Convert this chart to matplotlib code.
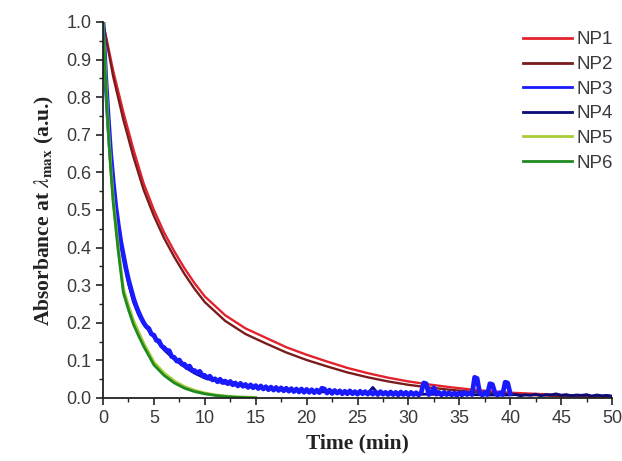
import numpy as np
import matplotlib
matplotlib.use("Agg")
import matplotlib.pyplot as plt
from matplotlib.ticker import MultipleLocator

plt.rcParams['mathtext.fontset'] = 'stix'

# NP1 / NP2 (red pair), smooth decays
t_red = [0, 1, 2, 3, 4, 5, 6, 7, 8, 9, 10, 12, 14, 16, 18, 20, 22, 24, 26,
         28, 30, 32, 34, 36, 38, 40, 45, 50]
np1 = [1.0, 0.87, 0.76, 0.66, 0.57, 0.50, 0.44, 0.39, 0.345, 0.305, 0.27,
       0.22, 0.185, 0.16, 0.135, 0.115, 0.097, 0.08, 0.066, 0.054, 0.044,
       0.036, 0.029, 0.023, 0.018, 0.014, 0.008, 0.004]
np2 = [1.0, 0.855, 0.74, 0.64, 0.553, 0.484, 0.425, 0.375, 0.33, 0.29,
       0.255, 0.205, 0.17, 0.145, 0.121, 0.101, 0.084, 0.068, 0.055, 0.044,
       0.035, 0.028, 0.022, 0.017, 0.013, 0.010, 0.005, 0.003]

# NP3 (noisy blue, sampled every 0.25 min up to 40 min)
t_np3 = np.arange(0, 40.01, 0.25)
np3 = [1.0, 0.86, 0.75, 0.65, 0.575, 0.51, 0.46, 0.415, 0.38, 0.345, 0.315,
       0.29, 0.265, 0.245, 0.228, 0.213, 0.20, 0.19,
       0.185, 0.170,
       0.167, 0.153, 0.152, 0.138,   # 5
       0.134, 0.126, 0.126, 0.110,   # 6
       0.108, 0.098, 0.101, 0.090,   # 7
       0.090, 0.080, 0.085, 0.073,   # 8
       0.073, 0.066, 0.071, 0.060,   # 9
       0.060, 0.053, 0.058, 0.048,   # 10
       0.051, 0.043, 0.050, 0.041,   # 11
       0.045, 0.038, 0.044, 0.035,   # 12
       0.040, 0.032, 0.039, 0.031,   # 13
       0.036, 0.028, 0.035, 0.027,   # 14
       0.033, 0.025, 0.032, 0.024,   # 15
       0.030, 0.022, 0.029, 0.021,   # 16
       0.028, 0.020, 0.027, 0.019,   # 17
       0.026, 0.018, 0.025, 0.017,   # 18
       0.024, 0.016, 0.024, 0.015,   # 19
       0.023, 0.015, 0.022, 0.014,   # 20
       0.021, 0.014, 0.026, 0.024,   # 21
       0.013, 0.021, 0.012, 0.020,   # 22
       0.013, 0.019, 0.011, 0.018,   # 23
       0.011, 0.019, 0.011, 0.017,   # 24
       0.010, 0.018, 0.011, 0.017,   # 25
       0.010, 0.017, 0.010, 0.016,   # 26
       0.009, 0.017, 0.010, 0.015,   # 27
       0.009, 0.016, 0.009, 0.015,   # 28
       0.008, 0.016, 0.009, 0.015,   # 29
       0.008, 0.015, 0.009, 0.014,   # 30
       0.008, 0.014, 0.040, 0.038,   # 31
       0.009, 0.014, 0.027, 0.010,   # 32
       0.015, 0.008, 0.015, 0.009,   # 33
       0.014, 0.008, 0.013, 0.007,   # 34
       0.014, 0.008, 0.015, 0.009,   # 35
       0.013, 0.009, 0.055, 0.052,   # 36
       0.014, 0.008, 0.015, 0.009,   # 37
       0.038, 0.036, 0.014, 0.008,   # 38
       0.014, 0.009, 0.042, 0.040,   # 39
       0.012]

# NP4 (dark blue, to 50 min)
t_np4 = [0, 0.25, 0.5, 0.75, 1, 1.5, 2, 2.5, 3, 3.5, 4, 5, 6, 7, 8, 9, 10, 12,
         14, 16, 18, 20, 22, 24, 26, 26.5, 27, 28, 30, 32, 34, 36, 38, 40,
         40.5, 41, 41.5, 42, 42.5, 43, 43.5, 44, 44.5, 45, 45.5, 46, 46.5, 47,
         47.5, 48, 48.5, 49, 49.5, 50]
np4 = [1.0, 0.855, 0.745, 0.645, 0.57, 0.455, 0.375, 0.305, 0.255, 0.222,
       0.197, 0.162, 0.128, 0.103, 0.083, 0.066, 0.053, 0.039, 0.031, 0.025,
       0.021, 0.018, 0.016, 0.014, 0.012, 0.028, 0.012, 0.011, 0.010, 0.010,
       0.009, 0.009, 0.008, 0.008,
       0.009, 0.006, 0.008, 0.007, 0.010, 0.006, 0.009, 0.008, 0.011, 0.007,
       0.009, 0.006, 0.008, 0.007, 0.009, 0.005, 0.008, 0.006, 0.007, 0.005]

# NP5 / NP6 (green pair)
t_green = [0, 0.25, 0.5, 0.75, 1, 1.5, 2, 2.5, 3, 3.5, 4, 5, 6, 7, 8, 9, 10,
           11, 12, 13, 14, 15]
np5 = [1.0, 0.86, 0.73, 0.62, 0.53, 0.40, 0.29, 0.245, 0.205, 0.175, 0.145,
       0.095, 0.066, 0.045, 0.030, 0.020, 0.013, 0.008, 0.005, 0.003, 0.002, 0.001]
np6 = [1.0, 0.85, 0.72, 0.61, 0.52, 0.39, 0.28, 0.235, 0.195, 0.165, 0.137,
       0.088, 0.060, 0.040, 0.026, 0.017, 0.011, 0.007, 0.004, 0.002, 0.001, 0.0]

labels = ['NP1', 'NP2', 'NP3', 'NP4', 'NP5', 'NP6']
colors = ['#e3222e', '#7a1c1c', '#1a1aff', '#0a0a78', '#a9cc3a', '#1f8a1f']

fig = plt.figure(figsize=(6.22, 4.61), dpi=100)
ax = fig.add_axes([0.1656, 0.1367, 0.8184, 0.8156])

ax.plot(t_red, np1, color=colors[0], lw=1.7, label=labels[0])
ax.plot(t_red, np2, color=colors[1], lw=1.7, label=labels[1])
ax.plot(t_np4, np4, color=colors[3], lw=2.0, label=labels[3])
ax.plot(t_np3, np3, color=colors[2], lw=3.4, label=labels[2])
ax.plot(t_green, np5, color=colors[4], lw=2.2, label=labels[4])
ax.plot(t_green, np6, color=colors[5], lw=2.0, label=labels[5])

ax.set_xlim(0, 50)
ax.set_ylim(0, 1.0)
ax.xaxis.set_major_locator(MultipleLocator(5))
ax.xaxis.set_minor_locator(MultipleLocator(2.5))
ax.yaxis.set_major_locator(MultipleLocator(0.1))
ax.yaxis.set_minor_locator(MultipleLocator(0.05))
ax.set_yticklabels([f'{v:.1f}' for v in ax.get_yticks()])

for s in ['top', 'right']:
    ax.spines[s].set_visible(False)
for s in ['left', 'bottom']:
    ax.spines[s].set_linewidth(1.3)
    ax.spines[s].set_color('#222222')

ax.tick_params(which='major', direction='out', length=5, width=1.2,
               labelsize=13, labelcolor='#3a3a3a', color='#222222')
ax.tick_params(which='minor', direction='out', length=3, width=1.0, color='#222222')
for lab in ax.get_xticklabels() + ax.get_yticklabels():
    lab.set_family('Liberation Sans')

ax.set_xlabel('Time (min)', family='Liberation Serif', weight='bold',
              fontsize=15.5, color='#222222', labelpad=5)
ax.set_ylabel(r'Absorbance at $\lambda_{\mathbf{max}}$ (a.u.)',
              family='Liberation Serif', weight='bold', fontsize=15.5,
              color='#222222', labelpad=7)

handles, labs = ax.get_legend_handles_labels()
order = [labs.index(l) for l in labels]
leg = ax.legend([handles[i] for i in order], [labs[i] for i in order],
                loc='upper right', bbox_to_anchor=(1.035, 1.02), frameon=False,
                prop={'family': 'Liberation Sans', 'size': 13.5},
                handlelength=2.6, handletextpad=0.25, labelspacing=0.4,
                labelcolor='#3a3a3a')
for h in leg.legend_handles:
    h.set_linewidth(2.0)

fig.savefig('out.png', dpi=100)
